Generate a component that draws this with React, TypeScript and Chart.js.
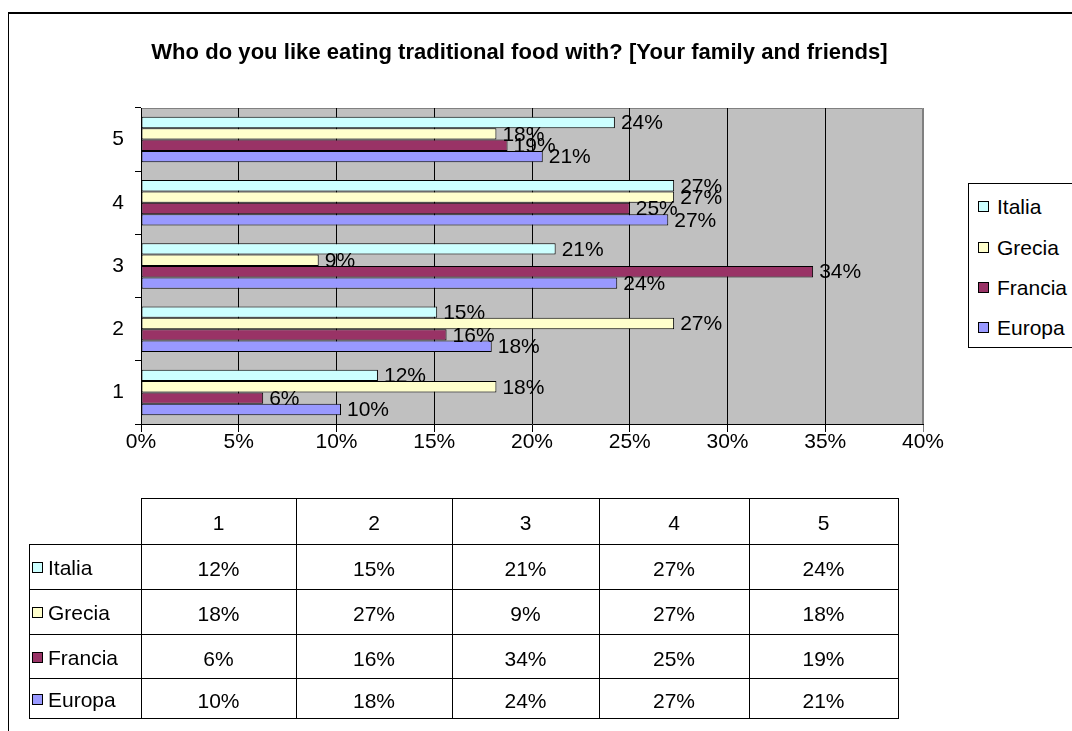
import React, { useEffect, useRef } from 'react';
import { Chart, registerables } from 'chart.js';

Chart.register(...registerables);

// ---- data ----
const categories = ['1', '2', '3', '4', '5'];
const seriesNames = ['Italia', 'Grecia', 'Francia', 'Europa'];
const italia = [12.12, 15.15, 21.21, 27.27, 24.24];
const grecia = [18.18, 27.27, 9.09, 27.27, 18.18];
const francia = [6.25, 15.63, 34.38, 25.0, 18.75];
const europa = [10.23, 17.94, 24.36, 26.97, 20.55];
const seriesColors = ['#CCFFFF', '#FFFFCC', '#993366', '#9999FF'];
const titleText = 'Who do you like eating traditional food with? [Your family and friends]';

const seriesValues = [italia, grecia, francia, europa];

// ---- layout constants ----
const FONT = "'Liberation Sans', Arial, Helvetica, sans-serif";
const FS = 21;
const colX = [29, 141, 296, 452, 599, 749, 898];
const rowY = [498, 544, 589, 634, 678, 718];

const pct = (v: number) => Math.round(v) + '%';

const plotBg = {
  id: 'plotBg',
  beforeDraw(chart: any) {
    const { ctx, chartArea } = chart;
    const { left, top, right, bottom } = chartArea;
    ctx.save();
    ctx.fillStyle = '#C0C0C0';
    ctx.fillRect(left, top, right - left, bottom - top);
    ctx.strokeStyle = '#808080';
    ctx.lineWidth = 1;
    ctx.beginPath();
    ctx.moveTo(left, top + 0.5);
    ctx.lineTo(right - 0.5, top + 0.5);
    ctx.lineTo(right - 0.5, bottom);
    ctx.stroke();
    ctx.restore();
  },
};

const dataLabels = {
  id: 'dataLabels',
  afterDatasetsDraw(chart: any) {
    const { ctx } = chart;
    ctx.save();
    ctx.font = `${FS}px ${FONT}`;
    ctx.fillStyle = '#000';
    ctx.textAlign = 'left';
    ctx.textBaseline = 'middle';
    chart.data.datasets.forEach((ds: any, di: number) => {
      const meta = chart.getDatasetMeta(di);
      meta.data.forEach((el: any, i: number) => {
        ctx.fillText(pct(ds.data[i]), el.x + 6, el.y + 1);
      });
    });
    ctx.restore();
  },
};

export default function App() {
  const canvasRef = useRef<HTMLCanvasElement | null>(null);

  useEffect(() => {
    document.body.style.margin = '0';
    const canvas = canvasRef.current;
    if (!canvas) return;
    const chart = new Chart(canvas, {
      type: 'bar',
      data: {
        labels: categories,
        datasets: seriesNames.map((name, i) => ({
          label: name,
          data: seriesValues[i],
          backgroundColor: seriesColors[i],
          borderColor: '#000',
          borderWidth: 1,
          borderSkipped: false,
          categoryPercentage: 0.72,
          barPercentage: 1,
        })),
      },
      options: {
        indexAxis: 'y',
        animation: false,
        responsive: false,
        maintainAspectRatio: false,
        devicePixelRatio: 1,
        events: [],
        layout: { padding: { left: 81, top: 108, right: 149, bottom: 267 } },
        plugins: {
          legend: { display: false },
          title: { display: false },
          tooltip: { enabled: false },
        },
        scales: {
          x: {
            type: 'linear',
            min: 0,
            max: 40,
            ticks: {
              stepSize: 5,
              callback: (v: any) => v + '%',
              color: '#000',
              font: { family: FONT, size: FS, lineHeight: 1 },
              padding: 0,
              maxRotation: 0,
            },
            grid: {
              color: (c: any) => (c.tick && c.tick.value === 40 ? '#808080' : '#000'),
              lineWidth: 1,
              tickLength: 8,
              drawTicks: true,
            },
            border: { color: '#000', width: 1 },
            afterFit: (s: any) => {
              s.height = 40;
            },
          },
          y: {
            type: 'category',
            reverse: true,
            offset: true,
            ticks: {
              color: '#000',
              font: { family: FONT, size: FS, lineHeight: 1 },
              padding: 11,
            },
            grid: {
              offset: true,
              drawOnChartArea: false,
              drawTicks: true,
              tickLength: 6,
              color: '#000',
            },
            border: { color: '#000', width: 1 },
            afterFit: (s: any) => {
              s.width = 60;
            },
          },
        },
      } as any,
      plugins: [plotBg, dataLabels],
    });
    return () => chart.destroy();
  }, []);

  const lines: React.ReactNode[] = [];
  lines.push(
    <div key="h0" style={{ position: 'absolute', left: colX[1], top: rowY[0], width: colX[6] - colX[1] + 1, height: 1, background: '#000' }} />
  );
  for (let r = 1; r < rowY.length; r++) {
    lines.push(
      <div key={'h' + r} style={{ position: 'absolute', left: colX[0], top: rowY[r], width: colX[6] - colX[0] + 1, height: 1, background: '#000' }} />
    );
  }
  lines.push(
    <div key="v0" style={{ position: 'absolute', left: colX[0], top: rowY[1], width: 1, height: rowY[5] - rowY[1] + 1, background: '#000' }} />
  );
  for (let c = 1; c < colX.length; c++) {
    lines.push(
      <div key={'v' + c} style={{ position: 'absolute', left: colX[c], top: rowY[0], width: 1, height: rowY[5] - rowY[0] + 1, background: '#000' }} />
    );
  }

  const cellText = (key: string, text: string, x0: number, x1: number, y0: number, y1: number) => (
    <div
      key={key}
      style={{
        position: 'absolute',
        left: x0,
        top: y0,
        width: x1 - x0,
        height: y1 - y0,
        display: 'flex',
        alignItems: 'center',
        justifyContent: 'center',
        fontSize: FS,
        lineHeight: FS + 'px',
      }}
    >
      {text}
    </div>
  );

  const cells: React.ReactNode[] = [];
  categories.forEach((cat, ci) => {
    cells.push(cellText('hc' + ci, cat, colX[ci + 1], colX[ci + 2], rowY[0], rowY[1] + 2));
  });
  seriesNames.forEach((name, si) => {
    const y0 = rowY[si + 1];
    const y1 = rowY[si + 2];
    cells.push(
      <div
        key={'rl' + si}
        style={{ position: 'absolute', left: colX[0] + 3, top: y0 + 1, height: y1 - y0, display: 'flex', alignItems: 'center', fontSize: FS, lineHeight: FS + 'px' }}
      >
        <span style={{ display: 'inline-block', width: 11, height: 11, boxSizing: 'border-box', border: '1px solid #000', background: seriesColors[si], marginRight: 5 }} />
        <span>{name}</span>
      </div>
    );
    seriesValues[si].forEach((v, ci) => {
      cells.push(cellText('c' + si + '_' + ci, pct(v), colX[ci + 1], colX[ci + 2], y0 + 2, y1 + 2));
    });
  });

  const legendCenters = [23, 64, 104, 144];

  return (
    <div style={{ position: 'absolute', left: 0, top: 0, width: 1072, height: 731, overflow: 'hidden', background: '#fff', fontFamily: FONT, color: '#000' }}>
      <div style={{ position: 'absolute', left: 8, top: 12, width: 1100, height: 800, borderLeft: '1px solid #000', borderTop: '2px solid #000' }} />
      <canvas ref={canvasRef} width={1072} height={731} style={{ position: 'absolute', left: 0, top: 0, width: 1072, height: 731, display: 'block' }} />
      <div style={{ position: 'absolute', left: 0, top: 40, width: 1039, textAlign: 'center', fontWeight: 'bold', fontSize: 22, lineHeight: '24px', letterSpacing: '0.05px' }}>
        {titleText}
      </div>
      <div style={{ position: 'absolute', left: 968, top: 183, width: 130, height: 165, boxSizing: 'border-box', border: '1px solid #000', background: '#fff' }}>
        {seriesNames.map((name, i) => (
          <React.Fragment key={name}>
            <span style={{ position: 'absolute', left: 9, top: legendCenters[i] - 6, width: 11, height: 11, boxSizing: 'border-box', border: '1px solid #000', background: seriesColors[i] }} />
            <span style={{ position: 'absolute', left: 28, top: legendCenters[i] - 11, fontSize: FS, lineHeight: '22px', whiteSpace: 'nowrap' }}>{name}</span>
          </React.Fragment>
        ))}
      </div>
      {lines}
      {cells}
    </div>
  );
}
